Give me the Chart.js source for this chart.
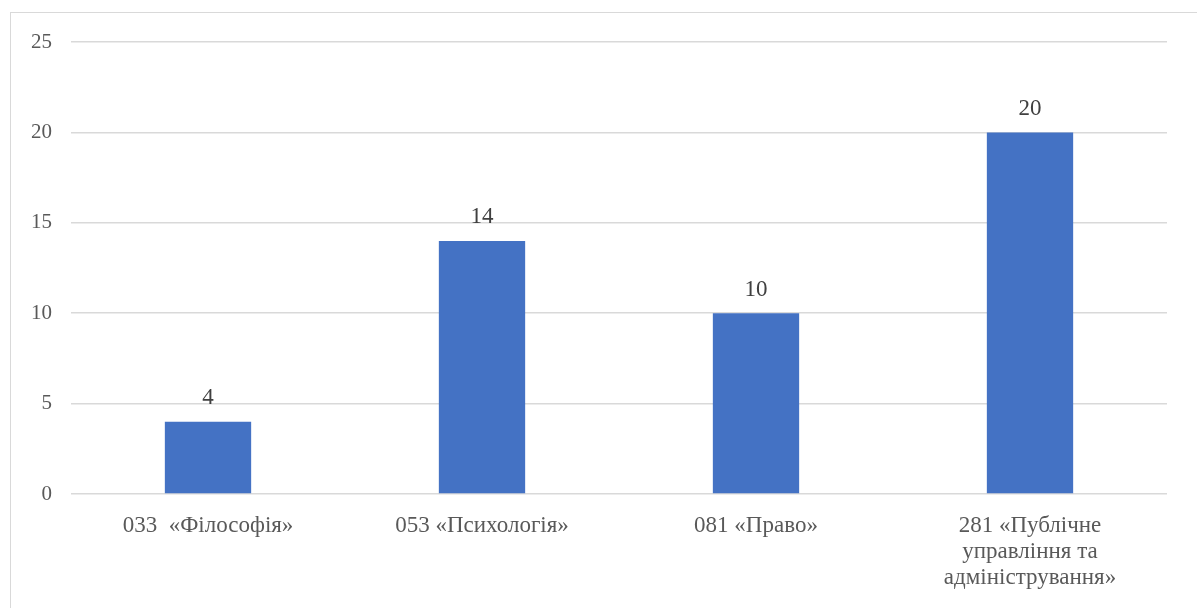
<!DOCTYPE html>
<html>
<head>
<meta charset="utf-8">
<script src="https://cdn.jsdelivr.net/npm/chart.js@4"></script>
<style>
  html, body { margin: 0; padding: 0; background: #fff; }
  #wrap { position: relative; width: 1197px; height: 608px; overflow: hidden; }
  #frame { position: absolute; left: 10px; top: 12px; width: 1190px; height: 610px;
           border: 1px solid #d9d9d9; box-sizing: border-box; }
  canvas { position: absolute; left: 0; top: 0; }
</style>
</head>
<body>
<div id="wrap">
  <div id="frame"></div>
  <canvas id="chartSpecialties" width="1197" height="608"></canvas>
</div>
<script>
  /* categories and values */
  const CATEGORIES = [
    '033  «Філософія»',
    '053 «Психологія»',
    '081 «Право»',
    ['281 «Публічне', 'управління та', 'адміністрування»'],
  ];
  const VALUES = [4, 14, 10, 20];
  const Y_TICKS = [0, 5, 10, 15, 20, 25];

  const BLUE = '#4472C4';
  const GRID = '#d9d9d9';
  const SERIF = "'Liberation Serif', 'DejaVu Serif', serif";

  /* value labels above each bar */
  const barLabels = {
    id: 'barLabels',
    afterDatasetsDraw(chart) {
      const { ctx } = chart;
      const meta = chart.getDatasetMeta(0);
      ctx.save();
      ctx.font = '23px ' + SERIF;
      ctx.fillStyle = '#404040';
      ctx.textAlign = 'center';
      ctx.textBaseline = 'bottom';
      meta.data.forEach((bar, i) => {
        ctx.fillText(String(VALUES[i]), bar.x, bar.y - 12);
      });
      ctx.restore();
    },
  };

  new Chart(document.getElementById('chartSpecialties'), {
    type: 'bar',
    data: {
      labels: CATEGORIES,
      datasets: [{
        data: VALUES,
        backgroundColor: BLUE,
        borderWidth: 0,
        categoryPercentage: 1,
        barPercentage: 0.315,
      }],
    },
    options: {
      responsive: false,
      animation: false,
      layout: { padding: { top: 42, right: 30, left: 0, bottom: 0 } },
      plugins: { legend: { display: false }, tooltip: { enabled: false } },
      scales: {
        x: {
          grid: { display: false },
          border: { display: false },
          ticks: {
            color: '#595959',
            font: { family: SERIF, size: 23, lineHeight: 1.13 },
            padding: 11,
            maxRotation: 0,
            autoSkip: false,
          },
          afterFit: (s) => { s.height = 114; },
        },
        y: {
          min: 0,
          max: 25,
          afterBuildTicks: (s) => { s.ticks = Y_TICKS.map((v) => ({ value: v })); },
          grid: { color: GRID, lineWidth: 1.5, drawTicks: false },
          border: { display: false },
          ticks: {
            color: '#595959',
            font: { family: SERIF, size: 21 },
            padding: 19,
          },
          afterFit: (s) => { s.width = 71; },
        },
      },
    },
    plugins: [barLabels],
  });
</script>
</body>
</html>
